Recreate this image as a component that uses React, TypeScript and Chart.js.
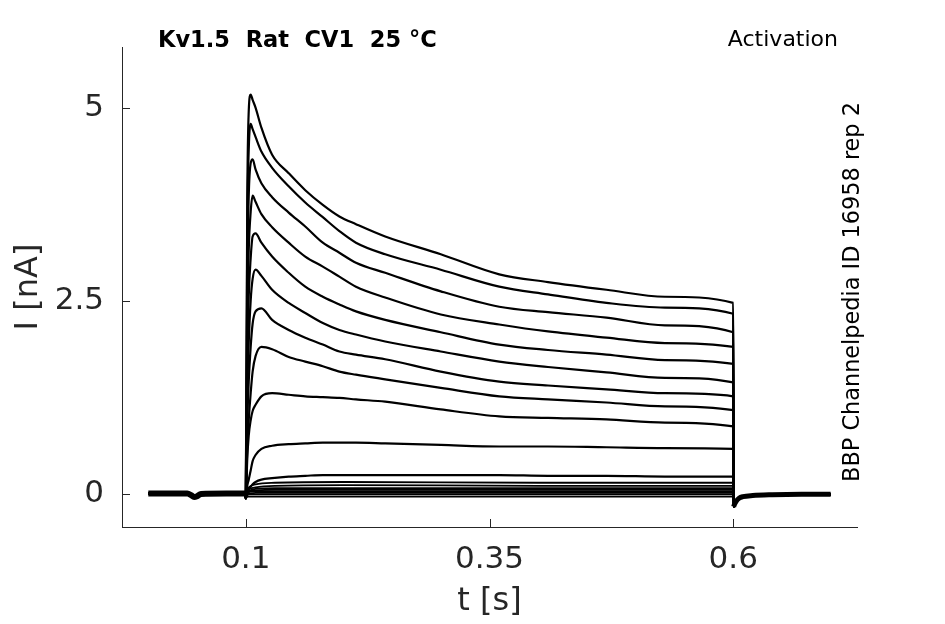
import { useEffect, useRef } from "react";
import { Chart, registerables } from "chart.js";

Chart.register(...registerables);

// holding segment before the pulse (s, nA)
const HOLD_T = [0, 0.02, 0.04, 0.044, 0.047, 0.05, 0.054, 0.08, 0.0995];
const HOLD_I = [0, 0, 0, -0.02, -0.045, -0.035, -0.005, 0, 0];

// tail after the pulse
const TAIL_T = [0.6005, 0.601, 0.603, 0.606, 0.61, 0.62, 0.64, 0.67, 0.7];
const TAIL_I = [-0.17, -0.15, -0.1, -0.06, -0.04, -0.025, -0.015, -0.01, -0.01];

// test pulse, larger sweeps
const STEP_T = [0.1, 0.1015, 0.103, 0.105, 0.107, 0.11, 0.116, 0.127, 0.144, 0.161, 0.179, 0.196, 0.213, 0.243, 0.3, 0.36, 0.41, 0.47, 0.53, 0.6];
const I1 = [-0.06, 3.8, 4.95, 5.17, 5.1, 5.0, 4.74, 4.39, 4.15, 3.93, 3.74, 3.59, 3.49, 3.33, 3.1, 2.84, 2.74, 2.64, 2.55, 2.47];
const I2 = [-0.06, 3.4, 4.45, 4.79, 4.72, 4.62, 4.43, 4.22, 3.98, 3.77, 3.58, 3.4, 3.25, 3.1, 2.9, 2.68, 2.58, 2.47, 2.41, 2.33];
const I3 = [-0.06, 2.8, 3.85, 4.28, 4.33, 4.2, 4.02, 3.84, 3.64, 3.46, 3.25, 3.12, 2.99, 2.86, 2.62, 2.42, 2.35, 2.28, 2.18, 2.09];
const I4 = [-0.06, 2.2, 3.15, 3.65, 3.86, 3.78, 3.62, 3.45, 3.25, 3.07, 2.94, 2.81, 2.68, 2.54, 2.32, 2.19, 2.1, 2.02, 1.95, 1.9];
const I5 = [-0.06, 1.7, 2.55, 3.05, 3.33, 3.37, 3.25, 3.07, 2.86, 2.68, 2.55, 2.45, 2.36, 2.25, 2.09, 1.93, 1.86, 1.8, 1.73, 1.68];
const I6 = [-0.06, 1.3, 1.95, 2.5, 2.78, 2.9, 2.82, 2.64, 2.47, 2.34, 2.21, 2.12, 2.06, 1.97, 1.84, 1.71, 1.64, 1.57, 1.5, 1.44];
const I7 = [-0.06, 0.9, 1.45, 1.9, 2.2, 2.36, 2.4, 2.25, 2.12, 2.02, 1.93, 1.84, 1.8, 1.74, 1.58, 1.45, 1.4, 1.35, 1.3, 1.26];
const I8 = [-0.06, 0.6, 0.95, 1.3, 1.58, 1.78, 1.9, 1.87, 1.77, 1.71, 1.65, 1.58, 1.54, 1.48, 1.37, 1.26, 1.22, 1.18, 1.13, 1.08];
const I9 = [-0.06, 0.45, 0.75, 0.95, 1.07, 1.15, 1.26, 1.3, 1.28, 1.26, 1.25, 1.24, 1.22, 1.19, 1.09, 1.0, 0.98, 0.96, 0.92, 0.87];
const I10 = [-0.06, 0.1, 0.18, 0.3, 0.42, 0.5, 0.58, 0.62, 0.64, 0.65, 0.66, 0.66, 0.66, 0.65, 0.63, 0.61, 0.61, 0.6, 0.59, 0.58];
const I11 = [-0.06, 0.03, 0.06, 0.09, 0.12, 0.15, 0.18, 0.2, 0.22, 0.23, 0.24, 0.24, 0.24, 0.24, 0.24, 0.24, 0.23, 0.23, 0.22, 0.22];

// small sweeps near baseline
const SMALL_T = [0.1, 0.1015, 0.104, 0.11, 0.13, 0.2, 0.4, 0.6];
const S1 = [-0.06, 0.04, 0.09, 0.12, 0.14, 0.15, 0.14, 0.14];
const S2 = [-0.06, 0.03, 0.06, 0.08, 0.1, 0.11, 0.1, 0.1];
const S3 = [-0.06, 0.02, 0.04, 0.06, 0.07, 0.07, 0.07, 0.07];
const S4 = [-0.06, 0.01, 0.03, 0.04, 0.05, 0.05, 0.05, 0.05];
const S5 = [-0.06, 0, 0.02, 0.03, 0.03, 0.03, 0.03, 0.03];
const S6 = [-0.06, -0.01, 0, 0.01, 0.01, 0.01, 0.01, 0.01];
const S7 = [-0.06, -0.02, -0.01, -0.01, -0.01, -0.01, -0.01, -0.01];
const S8 = [-0.06, -0.04, -0.04, -0.04, -0.04, -0.04, -0.04, -0.04];

const X_TICKS = [0.1, 0.35, 0.6];
const Y_TICKS = [0, 2.5, 5];

const TITLE = "Kv1.5  Rat  CV1  25 °C";
const PROTOCOL = "Activation";
const SOURCE = "BBP Channelpedia ID 16958 rep 2";

const AXIS_COLOR = "#262626";
const FONT = "'DejaVu Sans', sans-serif";

const pts = (ts: number[], vs: number[]) => ts.map((t, i) => ({ x: t, y: vs[i] }));

const sweep = (ts: number[], vs: number[]) => [
  ...pts(HOLD_T, HOLD_I),
  ...pts(ts, vs),
  ...pts(TAIL_T, TAIL_I),
];

const line = (data: { x: number; y: number }[], width = 2.2) => ({
  data,
  borderColor: "#000",
  borderWidth: width,
  pointRadius: 0,
  fill: false,
  cubicInterpolationMode: "monotone" as const,
});

const overlay = {
  id: "overlay",
  afterDraw(chart: Chart) {
    const { ctx, chartArea: a, scales } = chart;
    ctx.save();
    ctx.strokeStyle = AXIS_COLOR;
    ctx.lineWidth = 1;
    // inward tick marks
    X_TICKS.forEach((v) => {
      const px = Math.round(scales.x.getPixelForValue(v)) + 0.5;
      ctx.beginPath();
      ctx.moveTo(px, a.bottom);
      ctx.lineTo(px, a.bottom - 8);
      ctx.stroke();
    });
    Y_TICKS.forEach((v) => {
      const py = Math.round(scales.y.getPixelForValue(v)) + 0.5;
      ctx.beginPath();
      ctx.moveTo(a.left, py);
      ctx.lineTo(a.left + 8, py);
      ctx.stroke();
    });

    // axis titles
    ctx.fillStyle = AXIS_COLOR;
    ctx.font = `32px ${FONT}`;
    ctx.textAlign = "center";
    ctx.textBaseline = "alphabetic";
    ctx.fillText("t [s]", (a.left + a.right) / 2, 610);
    ctx.save();
    ctx.translate(37, (a.top + a.bottom) / 2);
    ctx.rotate(-Math.PI / 2);
    ctx.fillText("I [nA]", 0, 0);
    ctx.restore();

    // header texts
    ctx.fillStyle = "#000";
    ctx.font = `bold 22.5px ${FONT}`;
    ctx.textAlign = "left";
    ctx.fillText(TITLE, 158, 47);
    ctx.font = `22px ${FONT}`;
    ctx.textAlign = "right";
    ctx.fillText(PROTOCOL, 838, 46);
    ctx.save();
    ctx.translate(859, 292);
    ctx.rotate(-Math.PI / 2);
    ctx.textAlign = "center";
    ctx.font = `22.4px ${FONT}`;
    ctx.fillText(SOURCE, 0, 0);
    ctx.restore();
    ctx.restore();
  },
};

export default function App() {
  const canvasRef = useRef<HTMLCanvasElement>(null);

  useEffect(() => {
    if (!canvasRef.current) return;
    const chart = new Chart(canvasRef.current, {
      type: "line",
      data: {
        datasets: [
          line(pts(HOLD_T, HOLD_I), 6),
          line(pts(TAIL_T, TAIL_I), 5),
          ...[S1, S2, S3, S4, S5, S6, S7, S8].map((s) => line(sweep(SMALL_T, s), 1.8)),
          ...[I11, I10, I9, I8, I7, I6, I5, I4, I3, I2, I1].map((s) => line(sweep(STEP_T, s))),
        ],
      },
      options: {
        responsive: true,
        maintainAspectRatio: false,
        animation: false,
        layout: { padding: { top: 47, right: 88, left: 0, bottom: 0 } },
        plugins: { legend: { display: false }, tooltip: { enabled: false } },
        scales: {
          x: {
            type: "linear",
            min: -0.027,
            max: 0.727,
            afterFit: (s: any) => {
              s.height = 97;
            },
            afterBuildTicks: (s: any) => {
              s.ticks = X_TICKS.map((v) => ({ value: v }));
            },
            ticks: {
              autoSkip: false,
              maxRotation: 0,
              padding: 14,
              color: AXIS_COLOR,
              font: { family: FONT, size: 31 },
              callback: (v: any) => String(v),
            },
            grid: { display: true, drawOnChartArea: false, drawTicks: false },
            border: { display: true, color: AXIS_COLOR, width: 1 },
          },
          y: {
            type: "linear",
            min: -0.433,
            max: 5.785,
            afterFit: (s: any) => {
              s.width = 122;
            },
            afterBuildTicks: (s: any) => {
              s.ticks = Y_TICKS.map((v) => ({ value: v }));
            },
            ticks: {
              padding: 18,
              color: AXIS_COLOR,
              font: { family: FONT, size: 31 },
              callback: (v: any) => String(v),
            },
            grid: { display: true, drawOnChartArea: false, drawTicks: false },
            border: { display: true, color: AXIS_COLOR, width: 1 },
          },
        },
      },
      plugins: [overlay],
    });
    return () => chart.destroy();
  }, []);

  return (
    <div style={{ position: "fixed", left: 0, top: 0, width: 945, height: 624, background: "#fff" }}>
      <canvas
        ref={canvasRef}
        role="img"
        aria-label="Kv1.5 activation current traces, current in nA against time in s"
      />
    </div>
  );
}
